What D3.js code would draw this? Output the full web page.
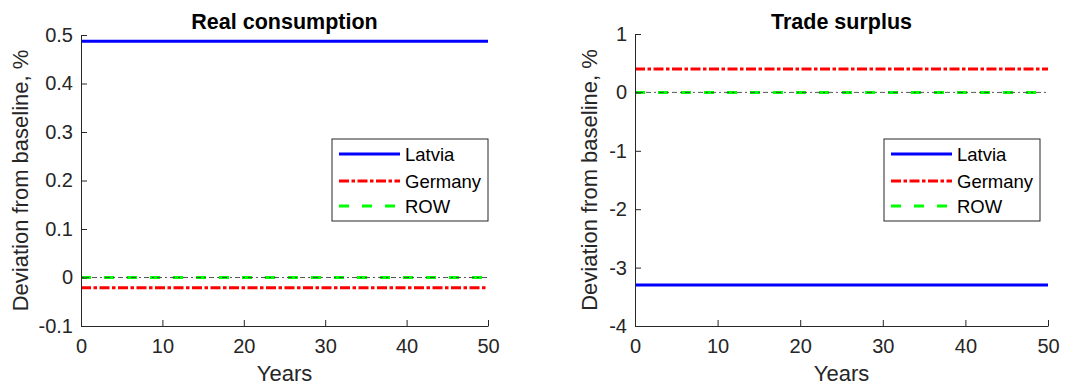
<!DOCTYPE html>
<html>
<head>
<meta charset="utf-8">
<script src="https://cdn.jsdelivr.net/npm/d3@7"></script>
<style>
  body { margin: 0; background: #fff; }
  svg { display: block; font-family: "Liberation Sans", Arial, sans-serif; }
</style>
</head>
<body>
<svg id="chart" width="1071" height="387"></svg>
<script>
// data (all series are flat over the horizon)
const years = [0, 50];
const seriesNames = ['Latvia', 'Germany', 'ROW'];
const consumptionLatvia = [0.487, 0.487];
const consumptionGermany = [-0.021, -0.021];
const consumptionROW = [0, 0];
const tradeLatvia = [-3.3, -3.3];
const tradeGermany = [0.40, 0.40];
const tradeROW = [0, 0];
const xTicks = [0, 10, 20, 30, 40, 50];
const consumptionTicks = [-0.1, 0, 0.1, 0.2, 0.3, 0.4, 0.5];
const tradeTicks = [-4, -3, -2, -1, 0, 1];

const axisColor = '#262626';
const styles = {
  Latvia: { color: '#0000ff', dash: null },
  Germany: { color: '#ff0000', dash: '10,2.5,3.5,2.5' },
  ROW: { color: '#00ff00', dash: '10,13' }
};

const svg = d3.select('#chart');

function panel(opts) {
  const { left, right, top, bottom, title, yDomain, yTicks, series, labelX, legend } = opts;

  const x = d3.scaleLinear().domain([0, 50]).range([left, right]);
  const y = d3.scaleLinear().domain(yDomain).range([bottom, top]);
  const g = svg.append('g');

  // lines
  const line = d3.line().x((d, i) => x(years[i])).y(d => y(d));
  seriesNames.forEach(name => {
    g.append('path')
      .datum(series[name])
      .attr('d', line)
      .attr('fill', 'none')
      .attr('stroke', styles[name].color)
      .attr('stroke-width', 3)
      .attr('stroke-dasharray', styles[name].dash);
  });

  // thin zero reference line
  g.append('line')
    .attr('x1', x(0)).attr('x2', x(50))
    .attr('y1', y(0)).attr('y2', y(0))
    .attr('stroke', '#444')
    .attr('stroke-width', 0.9)
    .attr('stroke-dasharray', '5,3,2,3')
    .attr('stroke-dashoffset', -11);

  // axes, ticks pointing inward
  const xAxis = g.append('g')
    .attr('transform', `translate(0,${bottom})`)
    .call(d3.axisBottom(x).tickValues(xTicks).tickSizeInner(-6).tickSizeOuter(0).tickPadding(13));
  const yAxis = g.append('g')
    .attr('transform', `translate(${left},0)`)
    .call(d3.axisLeft(y).tickValues(yTicks).tickSizeInner(-6).tickSizeOuter(0).tickPadding(8)
      .tickFormat(d => d3.format('~g')(d).replace('−', '-')));

  [xAxis, yAxis].forEach(a => {
    a.select('.domain').attr('stroke', axisColor).attr('stroke-width', 1);
    a.selectAll('.tick line').attr('stroke', axisColor);
    a.selectAll('.tick text')
      .attr('fill', axisColor)
      .style('font-size', '20px');
  });
  xAxis.selectAll('.tick text').attr('dy', '0.71em');

  // title and axis labels
  g.append('text')
    .attr('x', (left + right) / 2).attr('y', 29)
    .attr('text-anchor', 'middle')
    .style('font-size', '21.5px').style('font-weight', 'bold')
    .attr('fill', '#000')
    .text(title);

  g.append('text')
    .attr('x', (left + right) / 2).attr('y', 381)
    .attr('text-anchor', 'middle')
    .style('font-size', '22px')
    .attr('fill', axisColor)
    .text('Years');

  g.append('text')
    .attr('transform', `translate(${labelX},${(top + bottom) / 2}) rotate(-90)`)
    .attr('text-anchor', 'middle')
    .style('font-size', '22px')
    .attr('fill', axisColor)
    .text('Deviation from baseline, %');

  // legend
  const lg = g.append('g').attr('transform', `translate(${legend.x},${legend.y})`);
  lg.append('rect')
    .attr('width', legend.w).attr('height', 82)
    .attr('fill', '#fff')
    .attr('stroke', axisColor)
    .attr('stroke-width', 1);
  const rowY = [15, 42, 67];
  seriesNames.forEach((name, i) => {
    lg.append('line')
      .attr('x1', 7).attr('x2', 68)
      .attr('y1', rowY[i]).attr('y2', rowY[i])
      .attr('stroke', styles[name].color)
      .attr('stroke-width', 3)
      .attr('stroke-dasharray', styles[name].dash);
    lg.append('text')
      .attr('x', 73).attr('y', rowY[i])
      .attr('dy', '0.36em')
      .style('font-size', '18.5px')
      .attr('fill', '#000')
      .text(name);
  });
}

panel({
  left: 81, right: 488, top: 35, bottom: 326,
  title: 'Real consumption',
  yDomain: [-0.1, 0.5], yTicks: consumptionTicks,
  series: { Latvia: consumptionLatvia, Germany: consumptionGermany, ROW: consumptionROW },
  labelX: 28,
  legend: { x: 332, y: 139, w: 156 }
});

panel({
  left: 635, right: 1048, top: 34, bottom: 326,
  title: 'Trade surplus',
  yDomain: [-4, 1], yTicks: tradeTicks,
  series: { Latvia: tradeLatvia, Germany: tradeGermany, ROW: tradeROW },
  labelX: 597,
  legend: { x: 884, y: 139, w: 156 }
});
</script>
</body>
</html>
